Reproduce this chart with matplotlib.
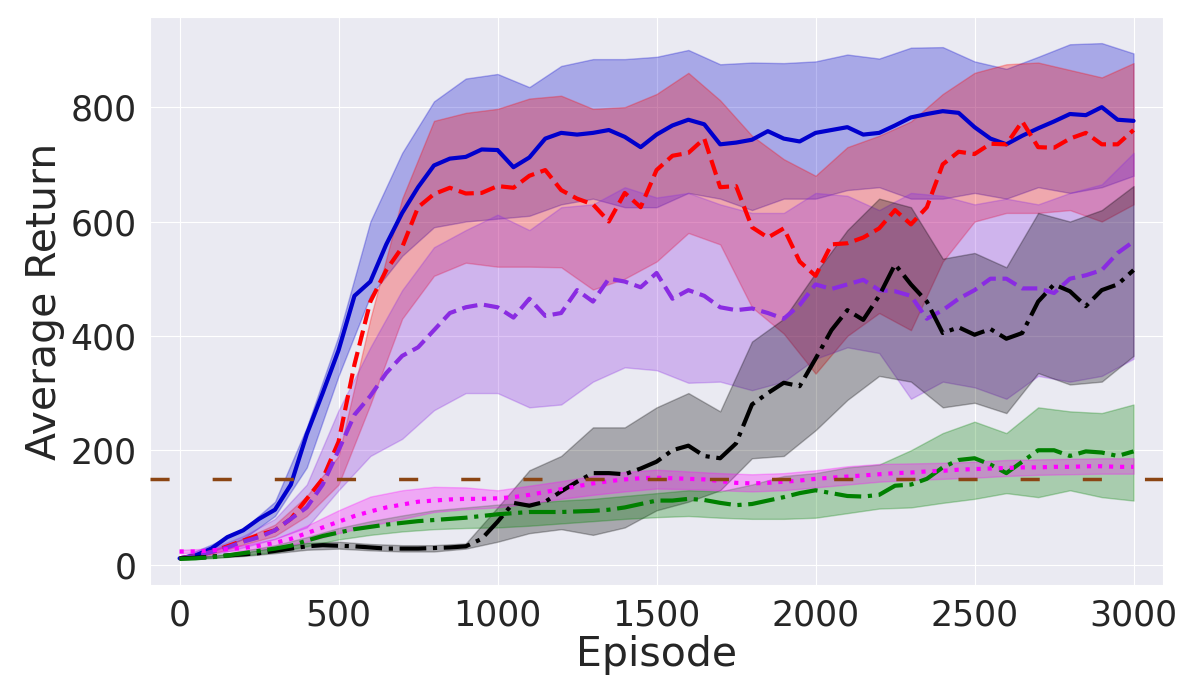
#%%
import numpy as np
import matplotlib
matplotlib.use("Agg")
import matplotlib.pyplot as plt
import seaborn as sns

#%% values
ep_mean = np.arange(0, 3001, 50)
ep_band = np.arange(0, 3001, 100)

blue_mean = [11, 16, 28, 48, 60, 80, 96, 140, 228, 300, 375, 470, 495, 560, 615, 660, 698, 710, 713, 726,
             725, 695, 712, 745, 755, 752, 755, 760, 748, 730, 752, 768, 778, 770, 735, 738, 743, 758, 745, 740,
             755, 760, 765, 752, 755, 768, 782, 788, 793, 790, 765, 745, 735, 750, 763, 775, 788, 786, 800, 778, 776]
blue_up = [12, 35, 62, 110, 240, 400, 600, 720, 810, 850, 858, 835, 872, 884, 884, 888, 900, 875, 878, 877,
           880, 892, 885, 904, 905, 880, 867, 888, 910, 912, 894]
blue_lo = [10, 22, 45, 85, 170, 330, 470, 540, 590, 600, 605, 610, 630, 640, 625, 625, 650, 640, 620, 640,
           640, 655, 660, 640, 640, 650, 640, 660, 650, 660, 680]

red_mean = [11, 15, 22, 32, 42, 52, 60, 80, 115, 150, 215, 350, 460, 515, 555, 625, 648, 659, 649, 650,
            662, 659, 680, 690, 655, 640, 630, 600, 650, 625, 690, 715, 720, 745, 660, 662, 590, 572, 588, 530,
            505, 560, 562, 572, 588, 620, 595, 625, 700, 722, 718, 736, 735, 775, 730, 729, 745, 755, 735, 735, 760]
red_up = [12, 25, 45, 70, 120, 190, 430, 640, 776, 790, 797, 815, 820, 797, 800, 823, 860, 812, 750, 709,
          680, 730, 750, 775, 823, 860, 875, 878, 865, 852, 877]
red_lo = [10, 18, 35, 50, 85, 140, 280, 430, 505, 528, 521, 521, 520, 481, 500, 530, 580, 560, 450, 404,
          334, 400, 440, 410, 530, 600, 615, 615, 620, 600, 630]

purple_mean = [11, 15, 22, 30, 40, 48, 60, 80, 100, 140, 200, 262, 295, 335, 365, 380, 410, 440, 450, 455,
               450, 432, 465, 435, 440, 480, 460, 500, 495, 485, 510, 465, 480, 470, 450, 445, 448, 440, 430, 454,
               490, 482, 490, 498, 480, 478, 470, 430, 445, 465, 480, 500, 500, 483, 483, 475, 500, 506, 515, 545, 565]
purple_up = [12, 28, 50, 80, 140, 270, 380, 480, 555, 585, 612, 585, 625, 630, 660, 642, 650, 630, 615, 615,
             650, 645, 620, 650, 645, 630, 640, 630, 650, 665, 720]
purple_lo = [10, 16, 30, 45, 65, 130, 190, 220, 270, 300, 300, 275, 280, 320, 345, 340, 318, 320, 305, 320,
             360, 380, 370, 290, 320, 310, 290, 330, 320, 330, 360]

black_mean = [11, 12, 14, 16, 18, 20, 24, 28, 32, 34, 33, 32, 30, 28, 28, 28, 29, 30, 32, 45,
              75, 108, 103, 110, 128, 145, 160, 160, 158, 168, 180, 200, 208, 190, 186, 212, 280, 300, 318, 312,
              360, 410, 445, 428, 470, 525, 490, 460, 405, 415, 402, 412, 395, 405, 460, 490, 478, 452, 480, 490, 515]
black_up = [12, 15, 21, 30, 38, 40, 36, 34, 34, 37, 100, 165, 190, 240, 240, 275, 300, 268, 390, 430,
            510, 585, 640, 625, 535, 545, 520, 615, 600, 620, 662]
black_lo = [10, 12, 15, 20, 26, 28, 25, 23, 23, 28, 40, 55, 62, 52, 65, 95, 110, 130, 186, 190,
            235, 288, 330, 320, 275, 283, 265, 335, 315, 320, 365]

green_mean = [10, 11, 13, 16, 20, 24, 28, 33, 42, 50, 56, 62, 66, 70, 73, 76, 78, 80, 82, 85,
              88, 90, 92, 92, 92, 93, 94, 96, 100, 106, 112, 112, 115, 113, 108, 104, 106, 112, 118, 125,
              130, 125, 120, 119, 122, 138, 140, 150, 170, 183, 186, 175, 160, 180, 200, 200, 190, 198, 196, 190, 198]
green_up = [11, 15, 24, 34, 48, 64, 76, 86, 95, 100, 105, 108, 112, 115, 120, 125, 130, 128, 140, 155,
            160, 170, 175, 200, 230, 250, 230, 275, 268, 265, 280]
green_lo = [9, 11, 16, 22, 32, 44, 52, 58, 62, 64, 65, 68, 72, 76, 80, 83, 85, 82, 80, 80,
            82, 90, 98, 100, 108, 115, 125, 118, 130, 118, 112]

magenta_mean = [23, 23, 25, 27, 29, 33, 38, 45, 55, 65, 75, 85, 93, 100, 105, 110, 112, 114, 115, 115,
                116, 118, 122, 127, 132, 137, 142, 146, 149, 151, 152, 151, 150, 149, 146, 143, 142, 143, 145, 147,
                150, 152, 154, 156, 158, 160, 161, 163, 164, 166, 167, 168, 169, 170, 170, 171, 171, 172, 172, 171, 171]
magenta_up = [26, 28, 34, 45, 68, 95, 119, 130, 136, 135, 130, 138, 146, 155, 162, 166, 163, 160, 158, 160,
              165, 172, 176, 177, 178, 180, 183, 184, 185, 186, 186]
magenta_lo = [20, 22, 25, 30, 40, 55, 68, 80, 92, 97, 100, 107, 115, 122, 128, 133, 132, 130, 128, 130,
              135, 140, 145, 148, 150, 152, 155, 157, 158, 159, 159]

threshold = 150

#%%
sns.set_style("darkgrid")
plt.rcParams['font.family'] = ['DejaVu Sans']

fig = plt.figure(figsize=(12, 7), dpi=100)
ax = fig.add_axes([0.125, 0.164, 0.844, 0.812])

series = [
    (blue_mean, blue_lo, blue_up, 'mediumblue', '-'),
    (red_mean, red_lo, red_up, 'red', '--'),
    (purple_mean, purple_lo, purple_up, 'blueviolet', '--'),
    (black_mean, black_lo, black_up, 'black', '-.'),
    (green_mean, green_lo, green_up, 'green', '-.'),
    (magenta_mean, magenta_lo, magenta_up, 'magenta', ':'),
]

for mean, lo, up, col, ls in series:
    ax.fill_between(ep_band, lo, up, color=col, alpha=0.28, linewidth=1, zorder=2)

for mean, lo, up, col, ls in series:
    ax.plot(ep_mean, mean, color=col, linestyle=ls, linewidth=3, zorder=3)

ax.axhline(threshold, color='saddlebrown', linestyle=(0, (5.5, 12.4)), linewidth=2.5, zorder=4)

ax.set_xlim(-93, 3092)
ax.set_ylim(-36, 958)
ax.set_xticks([0, 500, 1000, 1500, 2000, 2500, 3000])
ax.set_yticks([0, 200, 400, 600, 800])
ax.tick_params(labelsize=25, colors='#262626', pad=6)
ax.set_xlabel('Episode', fontsize=29.5, color='#262626', labelpad=2)
ax.set_ylabel('Average Return', fontsize=29.5, color='#262626', labelpad=4)

fig.savefig('out.png', dpi=100)
